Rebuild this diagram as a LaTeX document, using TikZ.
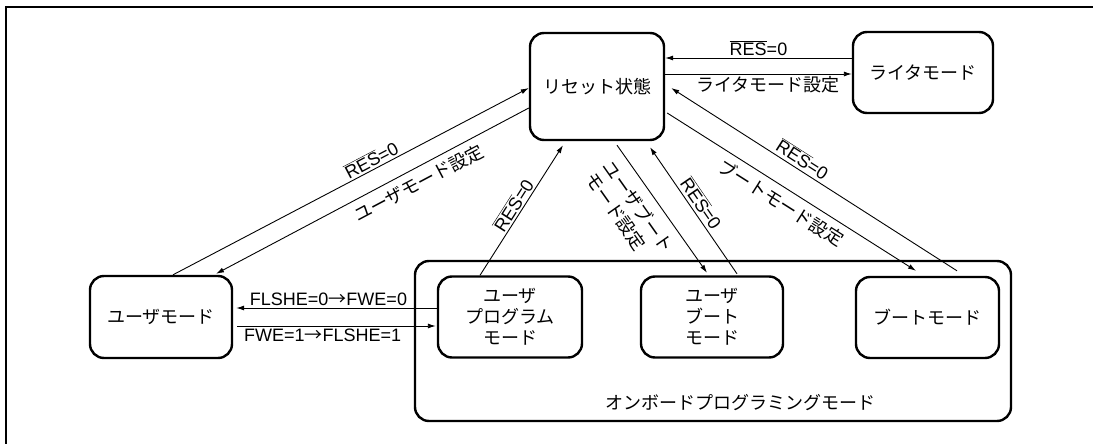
\documentclass[tikz,border=0pt]{standalone}
\usepackage{fontspec}
\setmainfont{Liberation Sans}
\newfontfamily\jpfont{Noto Sans CJK JP}
\usetikzlibrary{calc,arrows.meta}
\newcommand\ovl[1]{\mbox{$\overline{\mbox{#1}}$}}
\newcommand\jarr{{\jpfont →}}
\begin{document}
\begin{tikzpicture}[x=1pt,y=-1pt,
  box/.style={draw, line width=2.4pt, rounded corners=14pt, align=center,
    font=\jpfont\fontsize{18}{21}\selectfont, inner sep=0pt},
  conn/.style={line width=0.9pt, -{Latex[length=8pt,width=5pt]}},
  lab/.style={font=\fontsize{18}{21}\selectfont, inner sep=2pt},
  jlab/.style={font=\jpfont\fontsize{18}{21}\selectfont, inner sep=2pt}]
\useasboundingbox (0,0) rectangle (1093,444);
\draw[line width=2pt] (6,444) -- (6,7) -- (1093,7);

% states
\node[box, minimum width=134pt, minimum height=107pt] (reset) at (597,86.5) {\raisebox{-4pt}{リセット状態}};
\node[box, minimum width=140pt, minimum height=81pt] (writer) at (923,72.5) {ライタモード};
\node[box, minimum width=142pt, minimum height=82pt] (user) at (161,317) {ユーザモード};
\node[box, minimum width=596pt, minimum height=160pt] (onboard) at (713,341) {};
\node[box, minimum width=144pt, minimum height=81pt] (uprog) at (510,317) {ユーザ\\プログラム\\モード};
\node[box, minimum width=142pt, minimum height=81pt] (uboot) at (712,317) {ユーザ\\ブート\\モード};
\node[box, minimum width=143pt, minimum height=81pt] (boot) at (927.5,317.5) {ブートモード};
\node[jlab] (oblabel) at (740,403) {オンボードプログラミングモード};

% connector end points
\coordinate (wrA) at ($(writer.west)+(0,-14.5)$);
\coordinate (reA) at ($(reset.east)+(0,-28.5)$);
\coordinate (reB) at ($(reset.east)+(0,-12.5)$);
\coordinate (wrB) at ($(writer.west)+(0,1.5)$);

\coordinate (usA) at ($(user.north)+(12,0)$);
\coordinate (reC) at ($(reset.west)+(0,1.5)$);
\coordinate (reD) at ($(reset.west)+(0,21.5)$);
\coordinate (usB) at ($(user.north)+(55,-1)$);

\coordinate (upA) at ($(uprog.north)+(-30,0)$);
\coordinate (reE) at ($(reset.south)+(-34,4)$);

\coordinate (reF) at ($(reset.south)+(20,4)$);
\coordinate (ubA) at ($(uboot.north)+(-5,-2.5)$);
\coordinate (ubB) at ($(uboot.north)+(25,-1.5)$);
\coordinate (reG) at ($(reset.south)+(53,6)$);

\coordinate (reH) at ($(reset.east)+(2,26.5)$);
\coordinate (btA) at ($(boot.north)+(-11.5,-5)$);
\coordinate (btB) at ($(boot.north)+(29.5,-5)$);
\coordinate (reI) at ($(reset.east)+(6,1.5)$);

\coordinate (upB) at ($(uprog.west)+(0,-9)$);
\coordinate (usC) at ($(user.east)+(3,-9)$);
\coordinate (usD) at ($(user.east)+(4,9)$);
\coordinate (upC) at ($(uprog.west)+(-1,9)$);

% connectors
\draw[conn] (wrA) -- (reA) node[lab, above, pos=0.5] (l1) {\ovl{RES}=0};
\draw[conn] (reB) -- (wrB) node[jlab, below, pos=0.55] (l2) {ライタモード設定};

\draw[conn] (usA) -- (reC) node[lab, sloped, above, pos=0.57] (l3) {\ovl{RES}=0};
\draw[conn] (reD) -- (usB) node[jlab, sloped, below=4pt, pos=0.375] (l4) {ユーザモード設定};

\draw[conn] (upA) -- (reE) node[lab, sloped, above, pos=0.5] (l5) {\ovl{RES}=0};
\draw[conn] (reF) -- (ubA) node[jlab, sloped, below=7pt, pos=0.4, align=left] (l6) {ユーザブート\\モード設定};
\draw[conn] (ubB) -- (reG) node[lab, sloped, above=1pt, pos=0.51] (l7) {\ovl{RES}=0};

\draw[conn] (reH) -- (btA) node[jlab, sloped, below=4pt, pos=0.49] (l8) {ブートモード設定};
\draw[conn] (btB) -- (reI) node[lab, sloped, above=1pt, pos=0.56] (l9) {\ovl{RES}=0};

\draw[conn] (upB) -- (usC) node[lab, above, pos=0.54] (l10) {FLSHE=0\jarr FWE=0};
\draw[conn] (usD) -- (upC) node[lab, below, pos=0.43] (l11) {FWE=1\jarr FLSHE=1};
\end{tikzpicture}
\end{document}
